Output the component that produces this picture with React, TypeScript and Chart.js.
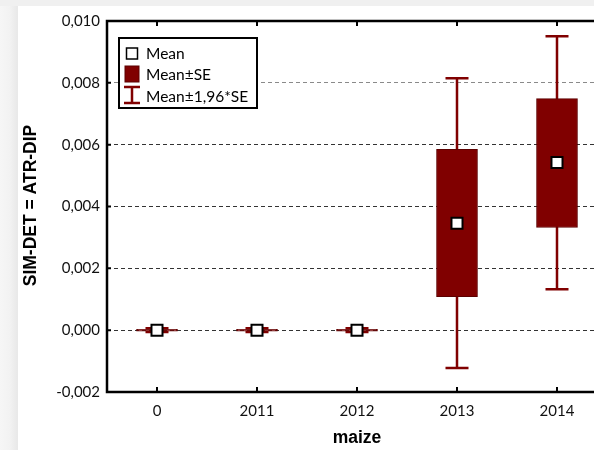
import React, { useEffect, useRef } from "react";
import { Chart, registerables } from "chart.js";

Chart.register(...registerables);

const categories = ["0", "2011", "2012", "2013", "2014"];
const meanValues = [0, 0, 0, 0.00346, 0.00542];
const seLow = [-0.00003, -0.00003, -0.00003, 0.00108, 0.00332];
const seHigh = [0.00003, 0.00003, 0.00003, 0.00585, 0.00749];
const ciLow = [-0.00006, -0.00006, -0.00006, -0.00122, 0.00132];
const ciHigh = [0.00006, 0.00006, 0.00006, 0.00815, 0.00951];
const legendLabels = ["Mean", "Mean±SE", "Mean±1,96*SE"];
const xTitle = "maize";
const yTitle = "SIM-DET = ATR-DIP";

const RED = "#800000";
const TICK_FONT = "Lato, 'Open Sans', sans-serif";
const TITLE_FONT = "'Liberation Sans', Arial, sans-serif";

const whiskerPlugin = {
  id: "whiskers",
  beforeDatasetsDraw(chart: any) {
    const { ctx } = chart;
    const x = chart.scales.x;
    const y = chart.scales.y;
    ctx.save();
    ctx.strokeStyle = RED;
    ctx.lineWidth = 2.5;
    for (let i = 0; i < categories.length; i++) {
      const px = x.getPixelForValue(i);
      const yh = y.getPixelForValue(ciHigh[i]);
      const yl = y.getPixelForValue(ciLow[i]);
      ctx.beginPath();
      ctx.moveTo(px, yh);
      ctx.lineTo(px, yl);
      ctx.moveTo(px - 11.5, yh);
      ctx.lineTo(px + 11.5, yh);
      ctx.moveTo(px - 11.5, yl);
      ctx.lineTo(px + 11.5, yl);
      ctx.stroke();
    }
    ctx.restore();
  },
};

const framePlugin = {
  id: "frame",
  afterDraw(chart: any) {
    const { ctx, chartArea } = chart;
    const { left, right, top, bottom } = chartArea;
    const x = chart.scales.x;
    const y = chart.scales.y;
    ctx.save();
    // ticks
    ctx.strokeStyle = "#000";
    ctx.lineWidth = 2;
    ctx.beginPath();
    for (let i = 0; i < categories.length; i++) {
      const px = x.getPixelForValue(i);
      ctx.moveTo(px, bottom);
      ctx.lineTo(px, bottom - 5);
      ctx.moveTo(px, top);
      ctx.lineTo(px, top + 5);
    }
    y.ticks.forEach((t: any) => {
      const py = y.getPixelForValue(t.value);
      ctx.moveTo(left, py);
      ctx.lineTo(left + 4, py);
    });
    ctx.stroke();
    // frame
    ctx.lineWidth = 2.5;
    ctx.strokeRect(left, top, right - left, bottom - top);

    // titles
    ctx.fillStyle = "#000";
    ctx.font = "bold 17.5px " + TITLE_FONT;
    ctx.textAlign = "center";
    ctx.textBaseline = "middle";
    ctx.fillText(xTitle, (left + right) / 2, 438);
    ctx.save();
    ctx.translate(31, (top + bottom) / 2 - 1);
    ctx.rotate(-Math.PI / 2);
    ctx.fillText(yTitle, 0, 0);
    ctx.restore();

    // legend
    const lx = left + 12;
    const ly = top + 17;
    ctx.fillStyle = "#fff";
    ctx.fillRect(lx, ly, 138, 70);
    ctx.strokeStyle = "#000";
    ctx.lineWidth = 2;
    ctx.strokeRect(lx, ly, 138, 70);
    const cx = lx + 13;
    // mean marker
    ctx.fillStyle = "#fff";
    ctx.fillRect(cx - 5.5, ly + 10, 11, 11);
    ctx.lineWidth = 1.5;
    ctx.strokeRect(cx - 5.5, ly + 10, 11, 11);
    // SE box
    ctx.fillStyle = RED;
    ctx.fillRect(cx - 7, ly + 28, 14, 16);
    ctx.strokeStyle = "#5c0000";
    ctx.lineWidth = 1;
    ctx.strokeRect(cx - 7, ly + 28, 14, 16);
    // CI
    ctx.strokeStyle = RED;
    ctx.lineWidth = 2.5;
    ctx.beginPath();
    ctx.moveTo(cx, ly + 49);
    ctx.lineTo(cx, ly + 65);
    ctx.moveTo(cx - 8, ly + 49);
    ctx.lineTo(cx + 8, ly + 49);
    ctx.moveTo(cx - 8, ly + 65);
    ctx.lineTo(cx + 8, ly + 65);
    ctx.stroke();
    ctx.fillStyle = "#000";
    ctx.font = "15.5px " + TICK_FONT;
    ctx.textAlign = "left";
    ctx.textBaseline = "middle";
    ctx.fillText(legendLabels[0], lx + 27, ly + 15.5);
    ctx.fillText(legendLabels[1], lx + 27, ly + 37);
    ctx.fillText(legendLabels[2], lx + 27, ly + 59);
    ctx.restore();
  },
};

export default function App() {
  const ref = useRef<HTMLCanvasElement | null>(null);

  useEffect(() => {
    if (!ref.current) return;
    const chart = new Chart(ref.current, {
      type: "bar",
      data: {
        labels: categories,
        datasets: [
          {
            type: "line",
            label: legendLabels[0],
            data: meanValues,
            showLine: false,
            pointStyle: "rect",
            pointRadius: 7.8,
            pointHoverRadius: 7.8,
            pointBackgroundColor: "#fff",
            pointBorderColor: "#000",
            pointBorderWidth: 2,
            order: 0,
          } as any,
          {
            type: "bar",
            label: legendLabels[1],
            data: categories.map((_, i) => [seLow[i], seHigh[i]]),
            backgroundColor: RED,
            borderColor: "#5c0000",
            borderWidth: 1,
            borderSkipped: false,
            barThickness: 41,
            order: 1,
          } as any,
        ],
      },
      options: {
        responsive: false,
        animation: false,
        devicePixelRatio: 1,
        layout: { padding: { top: 21, right: 13, left: 0, bottom: 0 } },
        plugins: {
          legend: { display: false },
          tooltip: { enabled: false },
        },
        scales: {
          x: {
            offset: true,
            border: { display: false },
            grid: { display: false, drawTicks: false },
            ticks: {
              padding: 10,
              color: "#111",
              font: { family: TICK_FONT, size: 15 },
            },
            afterFit: (s: any) => {
              s.height = 58;
            },
          },
          y: {
            min: -0.002,
            max: 0.01,
            border: { display: false, dash: [4, 3] },
            grid: {
              drawTicks: false,
              lineWidth: 1,
              color: (c: any) => {
                const v = Math.round((c.tick?.value ?? 0) * 1000);
                if (v === -2 || v === 10) return "rgba(0,0,0,0)";
                if (v === 8) return "#8a8a8a";
                return "#333";
              },
            },
            ticks: {
              stepSize: 0.002,
              padding: 7,
              color: "#111",
              font: { family: TICK_FONT, size: 15 },
              callback: (v: any) => Number(v).toFixed(3).replace(".", ","),
            },
            afterFit: (s: any) => {
              s.width = 107;
            },
          },
        },
      },
      plugins: [whiskerPlugin, framePlugin],
    });
    return () => chart.destroy();
  }, []);

  return (
    <div
      style={{
        position: "fixed",
        left: 0,
        top: 0,
        width: 594,
        height: 450,
        overflow: "hidden",
        background: "#f0f0f0",
      }}
    >
      <div
        style={{
          position: "absolute",
          left: 0,
          top: 6,
          width: 18,
          height: 444,
          background: "linear-gradient(to right, #f6f6f6 0px, #f2f2f2 10px, #e9e9e9 17px)",
        }}
      />
      <div
        style={{
          position: "absolute",
          left: 18,
          top: 6,
          right: 0,
          bottom: 0,
          background: "#fff",
        }}
      />
      <canvas
        ref={ref}
        width={620}
        height={450}
        style={{ position: "absolute", left: 0, top: 0, display: "block" }}
      />
    </div>
  );
}
